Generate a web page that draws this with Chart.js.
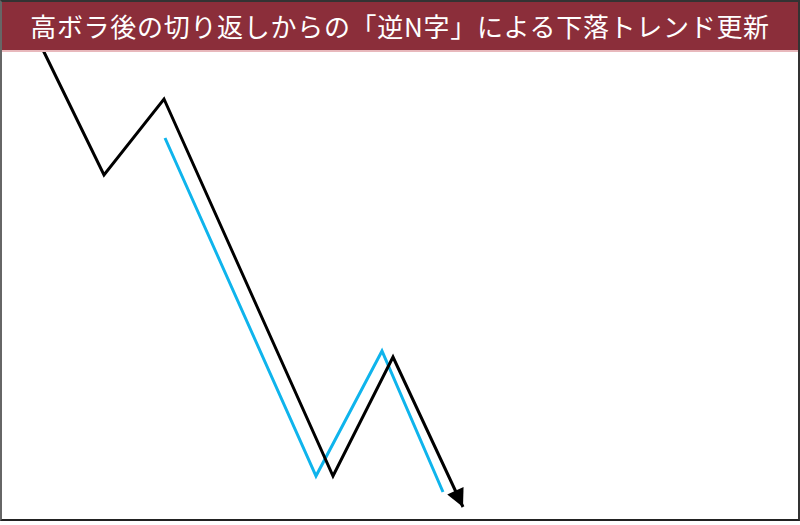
<!DOCTYPE html>
<html>
<head>
<meta charset="utf-8">
<script src="https://cdn.jsdelivr.net/npm/chart.js@4/dist/chart.umd.min.js"></script>
<style>
  html, body { margin: 0; padding: 0; background: #fff; }
  #frame {
    position: relative; width: 796px; height: 517px;
    border: 2px solid #333; border-left-color: #666; border-bottom-color: #222;
    box-sizing: content-box; overflow: hidden;
  }
  #title {
    position: absolute; left: 0; top: 0; width: 100%; height: 48px;
    background: #8b2e3a; border-bottom: 2px solid #e8b8bc;
    color: #fff; font-family: "Noto Sans CJK JP", sans-serif; font-size: 26px;
    line-height: 48px; text-align: center; letter-spacing: 0.7px; z-index: 2;
  }
  #wrap { position: absolute; left: -2px; top: -2px; width: 800px; height: 525px; }
</style>
</head>
<body>
<div id="frame">
  <div id="title">高ボラ後の切り返しからの「逆N字」による下落トレンド更新</div>
  <div id="wrap"><canvas id="chart"></canvas></div>
</div>
<script>
// 時間軸(0〜80) と 価格(0〜105)
const priceX = [4.3, 10.4, 16.4, 33.3, 39.3, 46.3];
const priceY = [95.0, 70.0, 85.2, 9.8, 33.6, 3.6];
const guideX = [16.5, 31.6, 38.2, 44.3];
const guideY = [77.4, 9.8, 34.8, 6.6];

function toPoints(xs, ys) {
  return xs.map((x, i) => ({ x: x, y: ys[i] }));
}

// 矢印の先端を描く
const arrowHead = {
  id: "arrowHead",
  afterDatasetsDraw(chart) {
    const meta = chart.getDatasetMeta(0);
    const pts = meta.data;
    const a = pts[pts.length - 2], b = pts[pts.length - 1];
    const ang = Math.atan2(b.y - a.y, b.x - a.x);
    const len = 18, half = 9;
    const ctx = chart.ctx;
    ctx.save();
    ctx.fillStyle = "#000";
    ctx.beginPath();
    ctx.moveTo(b.x, b.y);
    ctx.lineTo(b.x - len * Math.cos(ang) + half * Math.sin(ang), b.y - len * Math.sin(ang) - half * Math.cos(ang));
    ctx.lineTo(b.x - len * Math.cos(ang) - half * Math.sin(ang), b.y - len * Math.sin(ang) + half * Math.cos(ang));
    ctx.closePath();
    ctx.fill();
    ctx.restore();
  }
};

const ctx = document.getElementById("chart").getContext("2d");
new Chart(ctx, {
  type: "scatter",
  data: {
    datasets: [
      {
        data: toPoints(priceX, priceY),
        showLine: true,
        borderColor: "#000",
        borderWidth: 3,
        pointRadius: 0,
        borderJoinStyle: "miter",
        tension: 0
      },
      {
        data: toPoints(guideX, guideY),
        showLine: true,
        borderColor: "#0fb4ec",
        borderWidth: 3,
        pointRadius: 0,
        borderJoinStyle: "miter",
        tension: 0
      }
    ]
  },
  options: {
    responsive: true,
    maintainAspectRatio: false,
    animation: false,
    layout: { padding: 0 },
    plugins: { legend: { display: false }, tooltip: { enabled: false } },
    scales: {
      x: { type: "linear", min: 0, max: 80, display: false },
      y: { type: "linear", min: 0, max: 105, display: false }
    }
  },
  plugins: [arrowHead]
});
</script>
</body>
</html>
